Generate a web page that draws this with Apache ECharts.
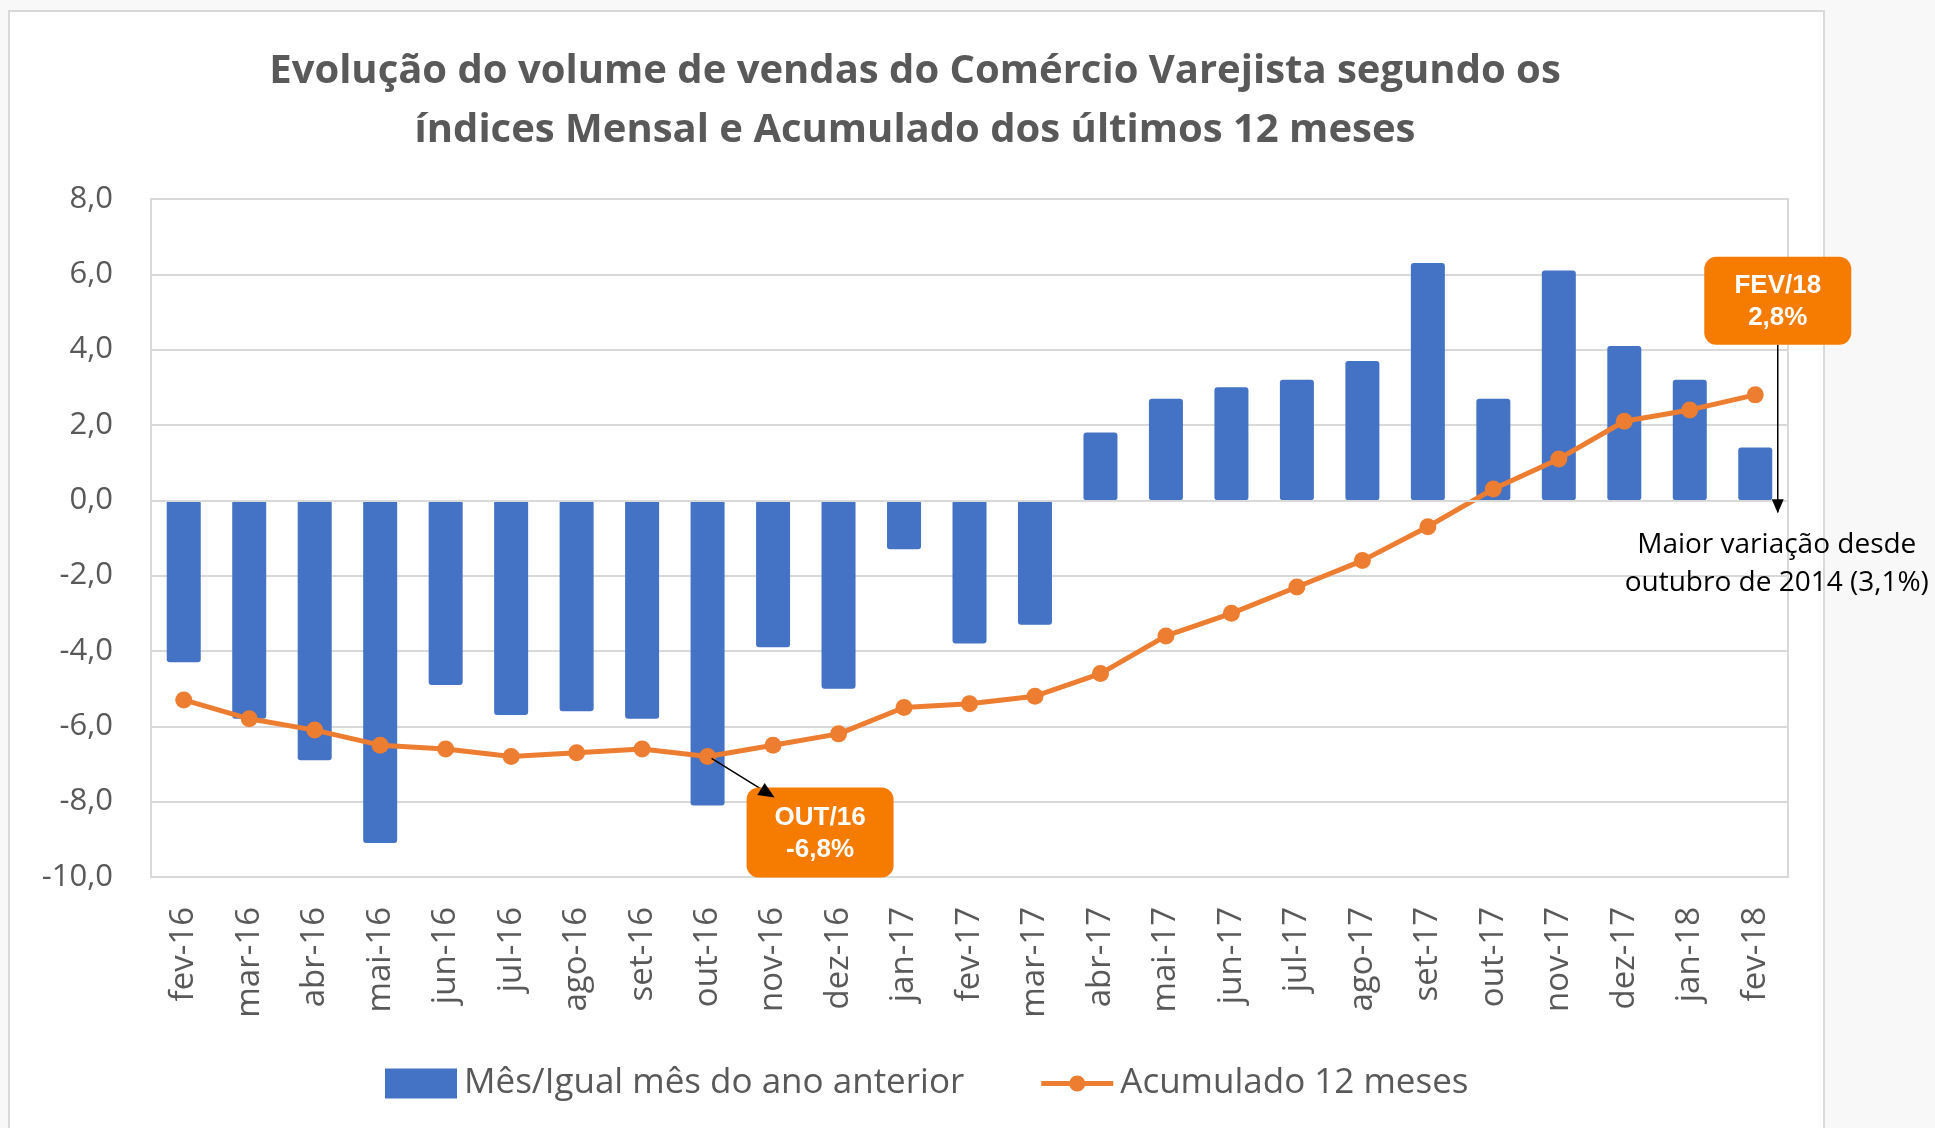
<!DOCTYPE html>
<html><head><meta charset="utf-8">
<script src="https://cdn.jsdelivr.net/npm/echarts@6/dist/echarts.min.js"></script>
<style>
html,body{margin:0;padding:0;background:#f8f8f8;width:1935px;height:1128px;overflow:hidden;}
#box{position:absolute;left:8px;top:10px;width:1813px;height:1140px;background:#fff;border:2px solid #d9d9d9;}
#chart{position:absolute;left:0;top:0;width:1935px;height:1128px;}
</style></head><body><div id="box"></div><div id="chart"></div>
<script>
const titleLines = ['Evolução do volume de vendas do Comércio Varejista segundo os', 'índices Mensal e Acumulado dos últimos 12 meses'];
const categories = ['fev-16','mar-16','abr-16','mai-16','jun-16','jul-16','ago-16','set-16','out-16','nov-16','dez-16','jan-17','fev-17','mar-17','abr-17','mai-17','jun-17','jul-17','ago-17','set-17','out-17','nov-17','dez-17','jan-18','fev-18'];
const monthlyIndex = [-4.3,-5.8,-6.9,-9.1,-4.9,-5.7,-5.6,-5.8,-8.1,-3.9,-5.0,-1.3,-3.8,-3.3,1.8,2.7,3.0,3.2,3.7,6.3,2.7,6.1,4.1,3.2,1.4];
const accumulated12m = [-5.3,-5.8,-6.1,-6.5,-6.6,-6.8,-6.7,-6.6,-6.8,-6.5,-6.2,-5.5,-5.4,-5.2,-4.6,-3.6,-3.0,-2.3,-1.6,-0.7,0.3,1.1,2.1,2.4,2.8];
const seriesNames = ['Mês/Igual mês do ano anterior', 'Acumulado 12 meses'];
const yMin = -10, yMax = 8, yInterval = 2;
const noteLow = {cat: 'out-16', text: 'OUT/16\n-6,8%'};
const noteHigh = {cat: 'fev-18', text: 'FEV/18\n2,8%'};
const noteHighComment = 'Maior variação desde\noutubro de 2014 (3,1%)';

const BLUE = '#4472C4', ORANGE = '#ED7D31', BOX = '#F57C00', GRID = '#d9d9d9', TXT = '#595959';
const FONT = "'Open Sans', 'Noto Sans', sans-serif";

const chart = echarts.init(document.getElementById('chart'), null, {renderer: 'canvas'});
const lineIcon = 'path://M0,0L0.01,0L0.01,0.01Z M0,30L0.01,30L0.01,29.99Z M0,12.5L28.4,12.5L28.4,17.5L0,17.5Z M43.6,12.5L72,12.5L72,17.5L43.6,17.5Z M28,15A8,8 0 1 1 44,15A8,8 0 1 1 28,15Z';

chart.setOption({
  animation: false,
  grid: {left: 151, right: 147, top: 199, bottom: 251, show: true, borderColor: GRID, borderWidth: 2, backgroundColor: 'transparent'},
  legend: {
    left: 380, top: 1061, itemWidth: 72, itemHeight: 30, itemGap: 77,
    textStyle: {fontSize: 35, color: TXT, fontFamily: FONT, padding: [0,0,0,2]},
    data: [{name: seriesNames[0], icon: 'rect'}, {name: seriesNames[1], icon: lineIcon}]
  },
  xAxis: {
    type: 'category', data: categories, boundaryGap: true,
    axisLine: {show: false}, axisTick: {show: false},
    axisLabel: {rotate: 90, margin: 30, fontSize: 33, color: TXT, fontFamily: FONT, interval: 0}
  },
  yAxis: {
    type: 'value', min: yMin, max: yMax, interval: yInterval,
    axisLine: {show: false}, axisTick: {show: false},
    axisLabel: {margin: 38, fontSize: 31, color: TXT, fontFamily: FONT,
      formatter: v => v.toFixed(1).replace('.', ',')},
    splitLine: {lineStyle: {color: GRID, width: 2}}
  },
  series: [
    {
      name: seriesNames[0], type: 'bar', data: monthlyIndex, barWidth: 34,
      itemStyle: {color: BLUE, borderRadius: 3},
      markLine: {silent: true, symbol: 'none', label: {show: false},
        lineStyle: {color: GRID, width: 2, type: 'solid'}, data: [{yAxis: 0}]}
    },
    {
      name: seriesNames[1], type: 'line', data: accumulated12m, z: 4,
      symbol: 'circle', symbolSize: 17,
      lineStyle: {color: ORANGE, width: 5}, itemStyle: {color: ORANGE}
    }
  ]
});

function arrowHead(tx, ty, dx, dy, len, half) {
  const l = Math.hypot(dx, dy); const ux = dx / l, uy = dy / l;
  const bx = tx - ux * len, by = ty - uy * len;
  return [[tx, ty], [bx - uy * half, by + ux * half], [bx + uy * half, by - ux * half]];
}

const iLow = categories.indexOf(noteLow.cat), iHigh = categories.indexOf(noteHigh.cat);
const pLow = chart.convertToPixel({gridIndex: 0}, [iLow, accumulated12m[iLow]]);
const pHigh = chart.convertToPixel({gridIndex: 0}, [iHigh, accumulated12m[iHigh]]);
const y0 = chart.convertToPixel({yAxisIndex: 0}, 0);

const lowBox = {x: pLow[0] + 39, y: pLow[1] + 31, w: 147, h: 90};
const lowStart = [pLow[0] + 4, pLow[1] + 2], lowTip = [pLow[0] + 67, pLow[1] + 41];
const highBox = {x: pHigh[0] - 51, y: pHigh[1] - 138, w: 147, h: 88};
const arrowX = highBox.x + highBox.w / 2;

chart.setOption({
  graphic: [
    {type: 'text', x: 915, y: 72, style: {text: titleLines[0], textAlign: 'center', textVerticalAlign: 'middle', fill: TXT, font: "bold 40px 'Open Sans', sans-serif"}},
    {type: 'text', x: 915, y: 131, style: {text: titleLines[1], textAlign: 'center', textVerticalAlign: 'middle', fill: TXT, font: "bold 40px 'Open Sans', sans-serif"}},
    {type: 'line', z: 10, shape: {x1: lowStart[0], y1: lowStart[1], x2: lowTip[0], y2: lowTip[1]}, style: {stroke: '#000', lineWidth: 1.5}},
    {type: 'polygon', z: 12, shape: {points: arrowHead(lowTip[0], lowTip[1], lowTip[0]-lowStart[0], lowTip[1]-lowStart[1], 16, 7)}, style: {fill: '#000'}},
    {type: 'rect', z: 11, shape: {x: lowBox.x, y: lowBox.y, width: lowBox.w, height: lowBox.h, r: 12}, style: {fill: BOX}},
    {type: 'text', z: 13, x: lowBox.x + lowBox.w / 2, y: lowBox.y + lowBox.h / 2 + 1, style: {text: noteLow.text, textAlign: 'center', textVerticalAlign: 'middle', fill: '#fff', lineHeight: 32, font: "bold 26px 'Liberation Sans', Arial, sans-serif"}},
    {type: 'rect', z: 11, shape: {x: highBox.x, y: highBox.y, width: highBox.w, height: highBox.h, r: 12}, style: {fill: BOX}},
    {type: 'text', z: 13, x: highBox.x + highBox.w / 2, y: highBox.y + highBox.h / 2 + 1, style: {text: noteHigh.text, textAlign: 'center', textVerticalAlign: 'middle', fill: '#fff', lineHeight: 32, font: "bold 26px 'Liberation Sans', Arial, sans-serif"}},
    {type: 'line', z: 10, shape: {x1: arrowX, y1: highBox.y + highBox.h, x2: arrowX, y2: y0 + 12}, style: {stroke: '#000', lineWidth: 1.5}},
    {type: 'polygon', z: 12, shape: {points: arrowHead(arrowX, y0 + 13, 0, 1, 14, 6)}, style: {fill: '#000'}},
    {type: 'text', z: 13, x: arrowX - 1, y: y0 + 64, style: {text: noteHighComment, textAlign: 'center', textVerticalAlign: 'middle', fill: '#000', lineHeight: 38, font: "28px 'Open Sans', sans-serif"}}
  ]
});
</script></body></html>
